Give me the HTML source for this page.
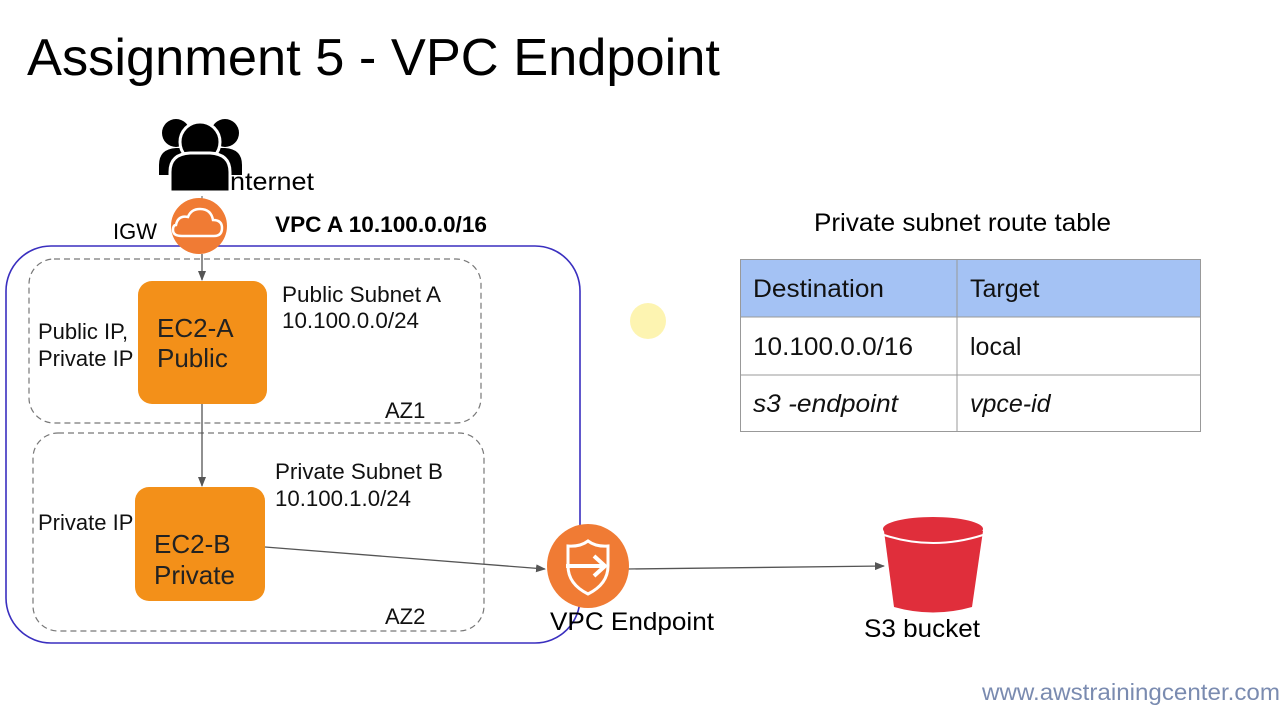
<!DOCTYPE html>
<html><head><meta charset="utf-8"><style>
html,body{margin:0;padding:0;background:#fff;}
svg{display:block;font-family:"Liberation Sans",Arial,sans-serif;}
</style></head><body>
<svg width="1280" height="720" viewBox="0 0 1280 720" xmlns="http://www.w3.org/2000/svg">
<defs>
<marker id="ah" markerWidth="10" markerHeight="8" refX="9" refY="4" orient="auto" markerUnits="userSpaceOnUse">
<path d="M0,0 L10,4 L0,8 z" fill="#555"/></marker>
</defs>
<rect width="1280" height="720" fill="#fff"/>
<text x="27" y="75" font-size="52" fill="#000" textLength="693" lengthAdjust="spacingAndGlyphs">Assignment 5 - VPC Endpoint</text>

<circle cx="648" cy="321" r="18" fill="#fdf3a8" opacity="0.9"/>

<rect x="6" y="246" width="574" height="397" rx="45" fill="none" stroke="#3a2fbf" stroke-width="1.6"/>
<rect x="29" y="259" width="452" height="164" rx="25" fill="none" stroke="#777" stroke-width="1.2" stroke-dasharray="6,4"/>
<rect x="33" y="433" width="451" height="198" rx="25" fill="none" stroke="#777" stroke-width="1.2" stroke-dasharray="6,4"/>

<g fill="#000">
<circle cx="176" cy="133" r="14"/>
<circle cx="225" cy="133" r="14"/>
<path d="M159,165 q0,-16 17,-17 h49 q17,1 17,17 v10 h-83z"/>
<circle cx="200" cy="142" r="20" stroke="#fff" stroke-width="3"/>
<path d="M170,192 v-20 q0,-18 20,-19 h20 q20,1 20,19 v20z" stroke="#fff" stroke-width="3"/>
</g>
<text x="230" y="190" font-size="25" textLength="84" lengthAdjust="spacingAndGlyphs">nternet</text>

<line x1="202" y1="196" x2="202" y2="200" stroke="#555"/>
<circle cx="199" cy="226" r="28" fill="#f07b34"/>
<path d="M182,236 h32 q8,0 8,-8 q0,-8 -9,-8 q-2,-11 -13,-11 q-9,0 -12,8 q-10,-2 -12,8 q-3,0 -3,5 q0,6 9,6z" fill="none" stroke="#fff" stroke-width="2.5"/>
<text x="113" y="239" font-size="22">IGW</text>
<text x="275" y="232" font-size="22" font-weight="bold" textLength="212" lengthAdjust="spacingAndGlyphs">VPC A 10.100.0.0/16</text>

<rect x="138" y="281" width="129" height="123" rx="14" fill="#f39019"/>
<text x="157" y="337" font-size="26" fill="#222">EC2-A</text>
<text x="157" y="367" font-size="26" fill="#222">Public</text>
<rect x="135" y="487" width="130" height="114" rx="14" fill="#f39019"/>
<text x="154" y="553" font-size="26" fill="#222">EC2-B</text>
<text x="154" y="584" font-size="26" fill="#222">Private</text>

<line x1="202" y1="254" x2="202" y2="280" stroke="#555" stroke-width="1.3" marker-end="url(#ah)"/>
<line x1="202" y1="404" x2="202" y2="486" stroke="#555" stroke-width="1.3" marker-end="url(#ah)"/>
<line x1="265" y1="547" x2="545" y2="569" stroke="#555" stroke-width="1.3" marker-end="url(#ah)"/>
<line x1="628" y1="569" x2="884" y2="566" stroke="#555" stroke-width="1.3" marker-end="url(#ah)"/>

<g font-size="22" fill="#111">
<text x="282" y="302" textLength="159" lengthAdjust="spacingAndGlyphs">Public Subnet A</text>
<text x="282" y="328" textLength="137" lengthAdjust="spacingAndGlyphs">10.100.0.0/24</text>
<text x="38" y="339">Public IP,</text>
<text x="38" y="366">Private IP</text>
<text x="385" y="418">AZ1</text>
<text x="275" y="479" textLength="168" lengthAdjust="spacingAndGlyphs">Private Subnet B</text>
<text x="275" y="506" textLength="136" lengthAdjust="spacingAndGlyphs">10.100.1.0/24</text>
<text x="38" y="530">Private IP</text>
<text x="385" y="624">AZ2</text>
</g>

<ellipse cx="588" cy="566" rx="41" ry="42" fill="#f07b34"/>
<path d="M588,541 q8,6 20,5 v20 q0,18 -20,28 q-20,-10 -20,-28 v-20 q12,1 20,-5z" fill="none" stroke="#fff" stroke-width="3"/>
<line x1="566" y1="566" x2="605" y2="566" stroke="#fff" stroke-width="4"/>
<path d="M594,556 l11,10 l-11,10" fill="none" stroke="#fff" stroke-width="4"/>
<text x="550" y="630" font-size="25" textLength="164" lengthAdjust="spacingAndGlyphs">VPC Endpoint</text>

<path d="M884,531 L894,607 Q933,618 972,607 L983,531z" fill="#e02e3b"/>
<ellipse cx="933" cy="529" rx="50" ry="12" fill="#e02e3b"/>
<path d="M884,535 q49,16 99,0" fill="none" stroke="#fff" stroke-width="2"/>
<text x="864" y="637" font-size="25" textLength="116" lengthAdjust="spacingAndGlyphs">S3 bucket</text>

<text x="814" y="231" font-size="25" textLength="297" lengthAdjust="spacingAndGlyphs">Private subnet route table</text>
<rect x="740" y="259" width="461" height="58" fill="#a4c2f4"/>
<g stroke="#999" stroke-width="1" fill="none">
<rect x="740.5" y="259.5" width="460" height="172"/>
<line x1="957" y1="259" x2="957" y2="432"/>
<line x1="740" y1="317" x2="1201" y2="317"/>
<line x1="740" y1="375" x2="1201" y2="375"/>
</g>
<g font-size="25" fill="#111">
<text x="753" y="297" textLength="131" lengthAdjust="spacingAndGlyphs">Destination</text>
<text x="970" y="297">Target</text>
<text x="753" y="355" textLength="160" lengthAdjust="spacingAndGlyphs">10.100.0.0/16</text>
<text x="970" y="355">local</text>
<text x="753" y="412" font-style="italic" textLength="145" lengthAdjust="spacingAndGlyphs">s3 -endpoint</text>
<text x="970" y="412" font-style="italic">vpce-id</text>
</g>

<text x="982" y="700" font-size="23" fill="#7a8bb0" textLength="298" lengthAdjust="spacingAndGlyphs">www.awstrainingcenter.com</text>
</svg>
</body></html>
